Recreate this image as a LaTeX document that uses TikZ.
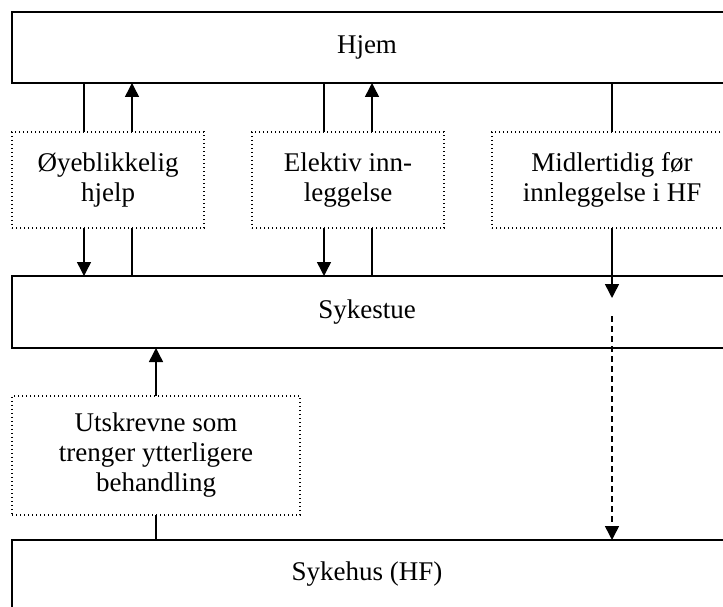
\documentclass[tikz,border=0pt]{standalone}
\usepackage{fontspec}
\setmainfont{Liberation Serif}
\usetikzlibrary{arrows.meta}
\begin{document}
\begin{tikzpicture}[x=1pt,y=-1pt,
  solidbox/.style={draw, line width=1.5pt, inner sep=0pt, outer sep=0pt},
  dotbox/.style={draw, line width=1.1pt, dash pattern=on 1.1pt off 2.9pt, inner sep=0pt, outer sep=0pt, align=center, font=\fontsize{27}{30}\selectfont},
  txt/.style={font=\fontsize{27}{30}\selectfont, align=center, inner sep=0pt},
  conn/.style={line width=1.5pt},
  arr/.style={conn, -{Triangle[width=14pt,length=14pt]}},
  dasharr/.style={conn, dash pattern=on 6pt off 4pt, -{Triangle[width=14pt,length=14pt]}}
]
\useasboundingbox (0,0) rectangle (723,607);
\clip (0,0) rectangle (723,607);
\fill[white] (0,0) rectangle (723,607);

% main boxes
\node[solidbox, minimum width=728pt, minimum height=71pt] (hjem) at (376,47.5) {};
\node[txt] (hjemtxt) at (367,47.5) {Hjem};
\node[solidbox, minimum width=728pt, minimum height=72pt] (sykestue) at (376,312) {};
\node[txt] (sykestuetxt) at (367,312) {Sykestue};
\node[solidbox, minimum width=728pt, minimum height=90pt] (sykehus) at (376,585) {};
\node[txt] (sykehustxt) at (367,574) {Sykehus (HF)};

% dotted boxes
\node[dotbox, minimum width=192pt, minimum height=96pt] (oy) at (108,180) {Øyeblikkelig\\hjelp};
\node[dotbox, minimum width=192pt, minimum height=96pt] (el) at (348,180) {Elektiv inn-\\leggelse};
\node[dotbox, minimum width=240pt, minimum height=96pt] (mid) at (612,180) {Midlertidig før\\innleggelse i HF};
\node[dotbox, minimum width=288pt, minimum height=119pt] (uts) at (156,455.5) {Utskrevne som\\trenger ytterligere\\behandling};

% Øyeblikkelig hjelp connectors
\draw[conn] ([xshift=-24pt]oy.north) -- ([xshift=-24pt]oy.north |- hjem.south);
\draw[arr] ([xshift=24pt]oy.north) -- ([xshift=24pt]oy.north |- hjem.south);
\draw[arr] ([xshift=-24pt]oy.south) -- ([xshift=-24pt]oy.south |- sykestue.north);
\draw[conn] ([xshift=24pt]oy.south) -- ([xshift=24pt]oy.south |- sykestue.north);

% Elektiv connectors
\draw[conn] ([xshift=-24pt]el.north) -- ([xshift=-24pt]el.north |- hjem.south);
\draw[arr] ([xshift=24pt]el.north) -- ([xshift=24pt]el.north |- hjem.south);
\draw[arr] ([xshift=-24pt]el.south) -- ([xshift=-24pt]el.south |- sykestue.north);
\draw[conn] ([xshift=24pt]el.south) -- ([xshift=24pt]el.south |- sykestue.north);

% Midlertidig connectors
\coordinate (midtip) at (612,298);
\coordinate (dstart) at (612,316);
\draw[conn] (mid.north) -- (mid.north |- hjem.south);
\draw[arr] (mid.south) -- (midtip);
\draw[dasharr] (dstart) -- (dstart |- sykehus.north);

% Utskrevne connectors
\draw[arr] (uts.north) -- (uts.north |- sykestue.south);
\draw[conn] (uts.south) -- (uts.south |- sykehus.north);
\end{tikzpicture}
\end{document}
